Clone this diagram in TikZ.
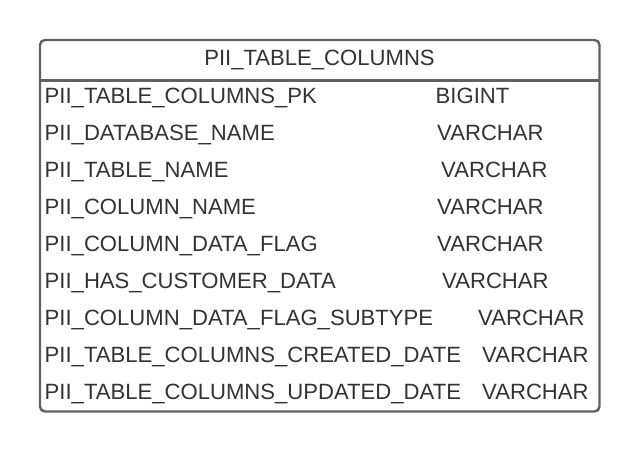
\documentclass[tikz,border=0pt]{standalone}
\usepackage{fontspec}
\setmainfont{Liberation Sans}
\begin{document}
\begin{tikzpicture}[x=1pt,y=-1pt,
  frame/.style={draw=black!62, line width=2.4pt, rounded corners=5pt},
  rule/.style={draw=black!62, line width=2.6pt},
  cell/.style={inner sep=0pt, anchor=base west, text=black!80,
    font=\fontsize{22.1}{26}\selectfont},
  title/.style={inner sep=0pt, anchor=base, text=black!80,
    font=\fontsize{22.1}{26}\selectfont}]
  \useasboundingbox (0,0) rectangle (640,453);
  \fill[white] (0,0) rectangle (640,453);
  % table frame and header rule
  \coordinate (tl) at (40,40);
  \coordinate (br) at (599.5,411.5);
  \draw[frame] (tl) rectangle (br);
  \coordinate (hl) at (40,80.5);
  \coordinate (hr) at (599.5,80.5);
  \draw[rule] (hl) -- (hr);
  % header
  \node[title] (head) at (319.5,65.2) {PII\_TABLE\_COLUMNS};
  % column names
  \node[cell] (n1) at (44.5,103.4) {PII\_TABLE\_COLUMNS\_PK};
  \node[cell] (n2) at (44.5,140.4) {PII\_DATABASE\_NAME};
  \node[cell] (n3) at (44.5,177.4) {PII\_TABLE\_NAME};
  \node[cell] (n4) at (44.5,214.4) {PII\_COLUMN\_NAME};
  \node[cell] (n5) at (44.5,251.4) {PII\_COLUMN\_DATA\_FLAG};
  \node[cell] (n6) at (44.5,288.4) {PII\_HAS\_CUSTOMER\_DATA};
  \node[cell] (n7) at (44.5,325.4) {PII\_COLUMN\_DATA\_FLAG\_SUBTYPE};
  \node[cell] (n8) at (44.5,362.4) {PII\_TABLE\_COLUMNS\_CREATED\_DATE};
  \node[cell] (n9) at (44.5,399.4) {PII\_TABLE\_COLUMNS\_UPDATED\_DATE};
  % column types
  \node[cell] (t1) at (435.5,103.4) {BIGINT};
  \node[cell] (t2) at (437,140.4) {VARCHAR};
  \node[cell] (t3) at (441,177.4) {VARCHAR};
  \node[cell] (t4) at (437,214.4) {VARCHAR};
  \node[cell] (t5) at (437,251.4) {VARCHAR};
  \node[cell] (t6) at (442,288.4) {VARCHAR};
  \node[cell] (t7) at (478,325.4) {VARCHAR};
  \node[cell] (t8) at (482,362.4) {VARCHAR};
  \node[cell] (t9) at (482,399.4) {VARCHAR};
\end{tikzpicture}
\end{document}
